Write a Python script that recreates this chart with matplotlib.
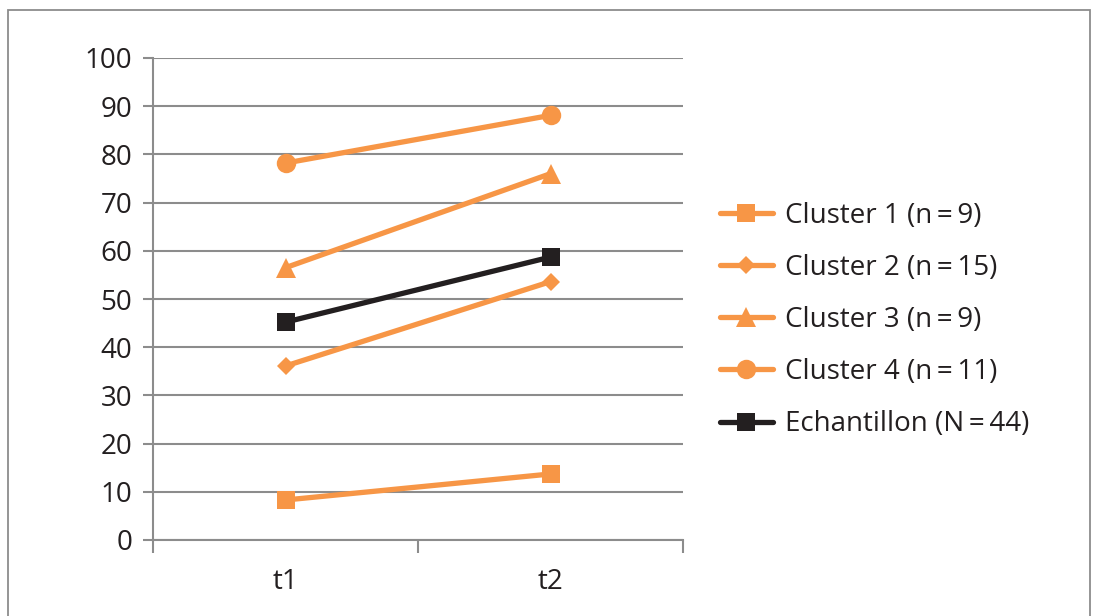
import matplotlib
matplotlib.use("Agg")
import matplotlib.pyplot as plt
from matplotlib.patches import Rectangle

plt.rcParams['font.family'] = ['Open Sans', 'DejaVu Sans']

# Data
times = ["t1", "t2"]
cluster1 = [8.3, 13.7]
cluster2 = [36.1, 53.6]
cluster3 = [56.5, 76.0]
cluster4 = [78.2, 88.1]
echantillon = [45.2, 58.7]

labels = ["Cluster 1 (n\u2009=\u20099)", "Cluster 2 (n\u2009=\u200915)",
          "Cluster 3 (n\u2009=\u20099)", "Cluster 4 (n\u2009=\u200911)",
          "Echantillon (N\u2009=\u200944)"]

orange = "#F79646"
dark = "#231F20"
grid_col = "#8C8C8C"
text_col = "#231F20"

W, H = 1097, 616
fig = plt.figure(figsize=(W / 100, H / 100), dpi=100)
fig.patch.set_facecolor("white")

# outer frame of the chart area
fig.patches.append(Rectangle((8 / W, -0.1), (1090 - 8) / W, 1.1 - 10 / H,
                             transform=fig.transFigure, fill=False,
                             edgecolor="#8C8C8C", linewidth=1.3))

ax = fig.add_axes([153 / W, 1 - 540 / H, (683 - 153) / W, (540 - 58) / H])
x = list(range(len(times)))

lw = 3.8
series = [
    (cluster1, "s", 13.5, orange),
    (cluster2, "D", 9.5, orange),
    (cluster3, "^", 14, orange),
    (cluster4, "o", 14, orange),
    (echantillon, "s", 13.5, dark),
]
for (vals, mk, ms, col), lab in zip(series, labels):
    ax.plot(x, vals, color=col, linewidth=lw, marker=mk, markersize=ms,
            markeredgewidth=0, label=lab, solid_capstyle="round", zorder=3)

ax.set_xlim(-0.5, len(times) - 0.5)
ax.set_ylim(0, 100)
ax.set_yticks(range(0, 101, 10))
ax.yaxis.grid(True, color=grid_col, linewidth=1.5)
ax.set_axisbelow(True)

# category boundary ticks on the x axis
ax.set_xticks([-0.5, 0.5, 1.5], minor=False)
ax.set_xticklabels(["", "", ""])
ax.set_xticks(x, minor=True)
ax.set_xticklabels(times, minor=True)
ax.tick_params(axis="x", which="major", length=9, width=1.5, color=grid_col,
               direction="out")
ax.tick_params(axis="x", which="minor", length=0, pad=20, labelsize=20,
               labelcolor=text_col)
ax.tick_params(axis="y", length=7, width=1.5, color=grid_col, pad=8,
               labelsize=20, labelcolor=text_col)

for side in ["top", "right"]:
    ax.spines[side].set_visible(False)
for side in ["left", "bottom"]:
    ax.spines[side].set_color(grid_col)
    ax.spines[side].set_linewidth(1.5)

leg = fig.legend(loc="center left", bbox_to_anchor=(706 / W, 1 - 320 / H),
                 frameon=False, fontsize=20, handlelength=1.9,
                 handletextpad=0.45, labelspacing=0.87, borderpad=0)
for t in leg.get_texts():
    t.set_color(text_col)

fig.savefig("out.png", dpi=100, facecolor="white")
